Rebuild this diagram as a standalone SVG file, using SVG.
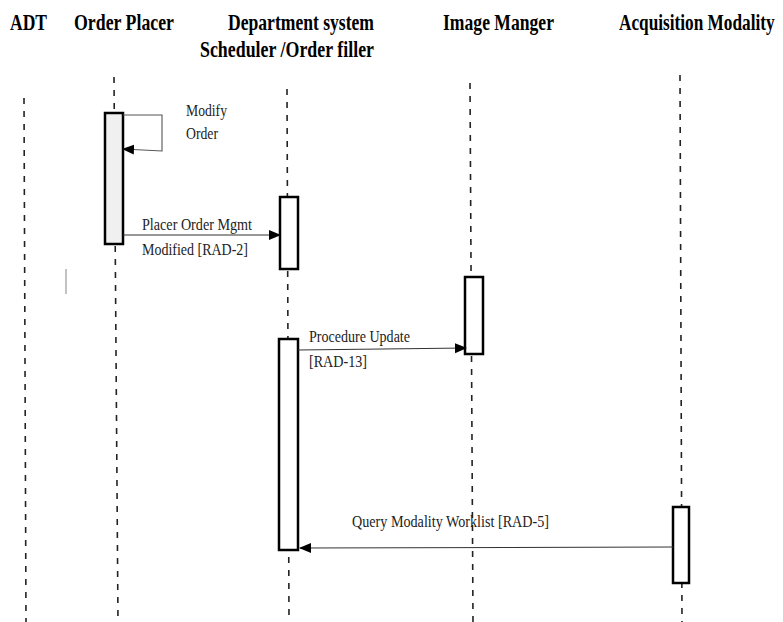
<svg xmlns="http://www.w3.org/2000/svg" width="783" height="622" viewBox="0 0 783 622">
<style>
.hdr{font-family:"Liberation Serif","Times New Roman",serif;font-weight:bold;font-size:23px;fill:#000}
.lbl{font-family:"Liberation Serif","Times New Roman",serif;font-size:16px;fill:#222}
.life{stroke:#222;stroke-width:1.6;stroke-dasharray:6 7;fill:none}
.act{fill:#fff;stroke:#000;stroke-width:2.5}
.msg{stroke:#333;stroke-width:1.1;fill:none}
</style>
<defs>
<marker id="ah" markerUnits="userSpaceOnUse" markerWidth="12" markerHeight="12" viewBox="0 0 12 12" refX="11" refY="6" orient="auto">
<path d="M0,1 L12,6 L0,11 Z" fill="#000"/>
</marker>
</defs>
<rect width="783" height="622" fill="#fff"/>

<g id="adt">
<text class="hdr" x="10" y="30" textLength="37" lengthAdjust="spacingAndGlyphs">ADT</text>
<line class="life" x1="24" y1="98" x2="26" y2="622"/>
</g>

<g id="order-placer">
<text class="hdr" x="74" y="30" textLength="100" lengthAdjust="spacingAndGlyphs">Order Placer</text>
<line class="life" x1="114" y1="77" x2="118" y2="622"/>
<rect class="act" x="105" y="113" width="18" height="131" style="fill:#f0f0f0"/>
</g>

<g id="department-system">
<text class="hdr" x="228" y="30" textLength="146" lengthAdjust="spacingAndGlyphs">Department system</text>
<text class="hdr" x="200" y="57" textLength="174" lengthAdjust="spacingAndGlyphs">Scheduler /Order filler</text>
<line class="life" x1="287" y1="89" x2="289" y2="622"/>
<rect class="act" x="280" y="197" width="18" height="72"/>
<rect class="act" x="279" y="339" width="19" height="211"/>
</g>

<g id="image-manger">
<text class="hdr" x="443" y="30" textLength="111" lengthAdjust="spacingAndGlyphs">Image Manger</text>
<line class="life" x1="470" y1="83" x2="473" y2="622"/>
<rect class="act" x="465" y="277" width="18" height="77"/>
</g>

<g id="acquisition-modality">
<text class="hdr" transform="translate(619,30) scale(0.75,1)" x="0" y="0">Acquisition Modality</text>
<line class="life" x1="680" y1="75" x2="682" y2="622"/>
<rect class="act" x="673" y="507" width="16" height="76"/>
</g>

<g id="connectors">
<path d="M123,115 L162,115 L162,151 L123,149" fill="none" stroke="#555" stroke-width="1.1" marker-end="url(#ah)"/>
<text class="lbl" x="186" y="116" textLength="41" lengthAdjust="spacingAndGlyphs">Modify</text>
<text class="lbl" x="186" y="139" textLength="32" lengthAdjust="spacingAndGlyphs">Order</text>

<line class="msg" x1="123" y1="235" x2="280" y2="235" marker-end="url(#ah)"/>
<text class="lbl" x="142" y="230" textLength="110" lengthAdjust="spacingAndGlyphs">Placer Order Mgmt</text>
<text class="lbl" x="142" y="255" textLength="106" lengthAdjust="spacingAndGlyphs">Modified [RAD-2]</text>

<line class="msg" x1="298" y1="350" x2="466" y2="348" marker-end="url(#ah)"/>
<text class="lbl" x="309" y="342" textLength="101" lengthAdjust="spacingAndGlyphs">Procedure Update</text>
<text class="lbl" x="309" y="367" textLength="58" lengthAdjust="spacingAndGlyphs">[RAD-13]</text>

<line class="msg" x1="673" y1="547" x2="300" y2="548" marker-end="url(#ah)"/>
<text class="lbl" x="352" y="527" textLength="197" lengthAdjust="spacingAndGlyphs">Query Modality Worklist [RAD-5]</text>

<line x1="66" y1="269" x2="66" y2="294" stroke="#999" stroke-width="1.2"/>
</g>
</svg>
